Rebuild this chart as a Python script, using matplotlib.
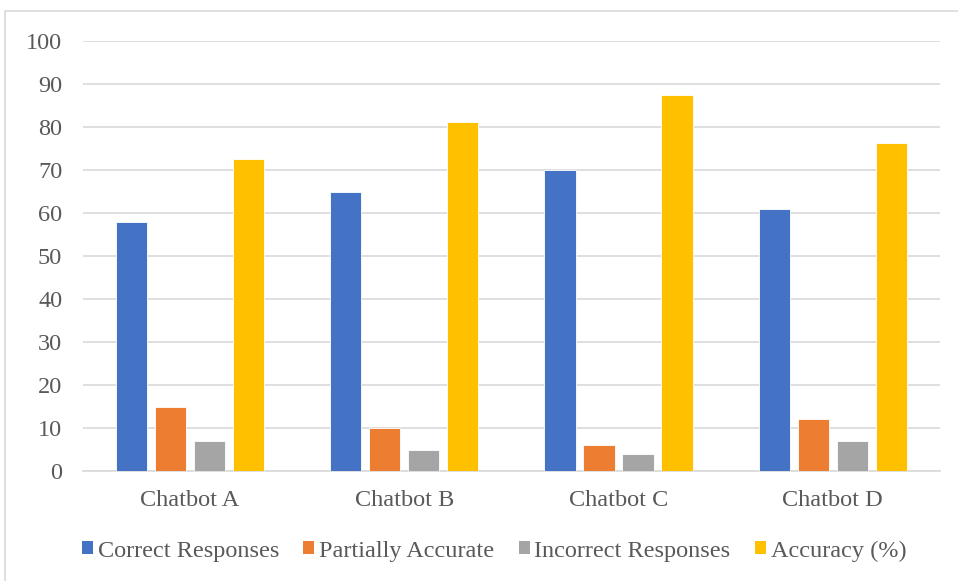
import numpy as np
import matplotlib.pyplot as plt
from matplotlib.patches import Rectangle, Patch

plt.rcParams['font.family'] = ['Liberation Serif', 'DejaVu Serif']

chatbots = ["Chatbot A", "Chatbot B", "Chatbot C", "Chatbot D"]
correct = [58, 65, 70, 61]
partial = [15, 10, 6, 12]
incorrect = [7, 5, 4, 7]
accuracy = [72.5, 81.25, 87.5, 76.25]

series = [
    ("Correct Responses", correct, "#4472C4"),
    ("Partially Accurate", partial, "#ED7D31"),
    ("Incorrect Responses", incorrect, "#A5A5A5"),
    ("Accuracy (%)", accuracy, "#FFC000"),
]

fig = plt.figure(figsize=(9.58, 5.81), dpi=100)
ax = fig.add_axes([0.0866, 0.1893, 0.8944, 0.7401])

# outer chart frame
fig.patches.append(Rectangle((5 / 958, -0.1), 1.2, 1 - 11 / 581 + 0.1,
                             transform=fig.transFigure, fill=False,
                             edgecolor="#d9d9d9", linewidth=1.2))

x = np.arange(len(chatbots))
slot = 0.182
for i, (name, vals, col) in enumerate(series):
    ax.bar(x + (i - 1.5) * slot, vals, width=slot * 0.8, color=col,
           edgecolor="white", linewidth=0.6, zorder=3)

ax.set_xlim(-0.5, 3.5)
ax.set_ylim(0, 100)
ax.set_yticks(np.arange(0, 101, 10))
ax.grid(axis="y", color="#d9d9d9", linewidth=1.2, zorder=0)
for s in ["top", "right", "left"]:
    ax.spines[s].set_visible(False)
ax.spines["bottom"].set_color("#d9d9d9")
ax.spines["bottom"].set_linewidth(1.2)
ax.tick_params(axis="both", length=0, labelsize=17.5, colors="#595959")
ax.tick_params(axis="y", pad=15)
ax.tick_params(axis="x", pad=14)
ax.set_xticks(x)
ax.set_xticklabels(chatbots)

handles = [Patch(facecolor=c, label=n) for n, _, c in series]
fig.legend(handles=handles, loc="center", bbox_to_anchor=(0.5157, 1 - 551 / 581),
           ncol=4, frameon=False, fontsize=17.5, handlelength=0.45,
           handleheight=0.45, handletextpad=0.2, columnspacing=1.0,
           labelcolor="#595959")

fig.savefig("out.png", dpi=100)
